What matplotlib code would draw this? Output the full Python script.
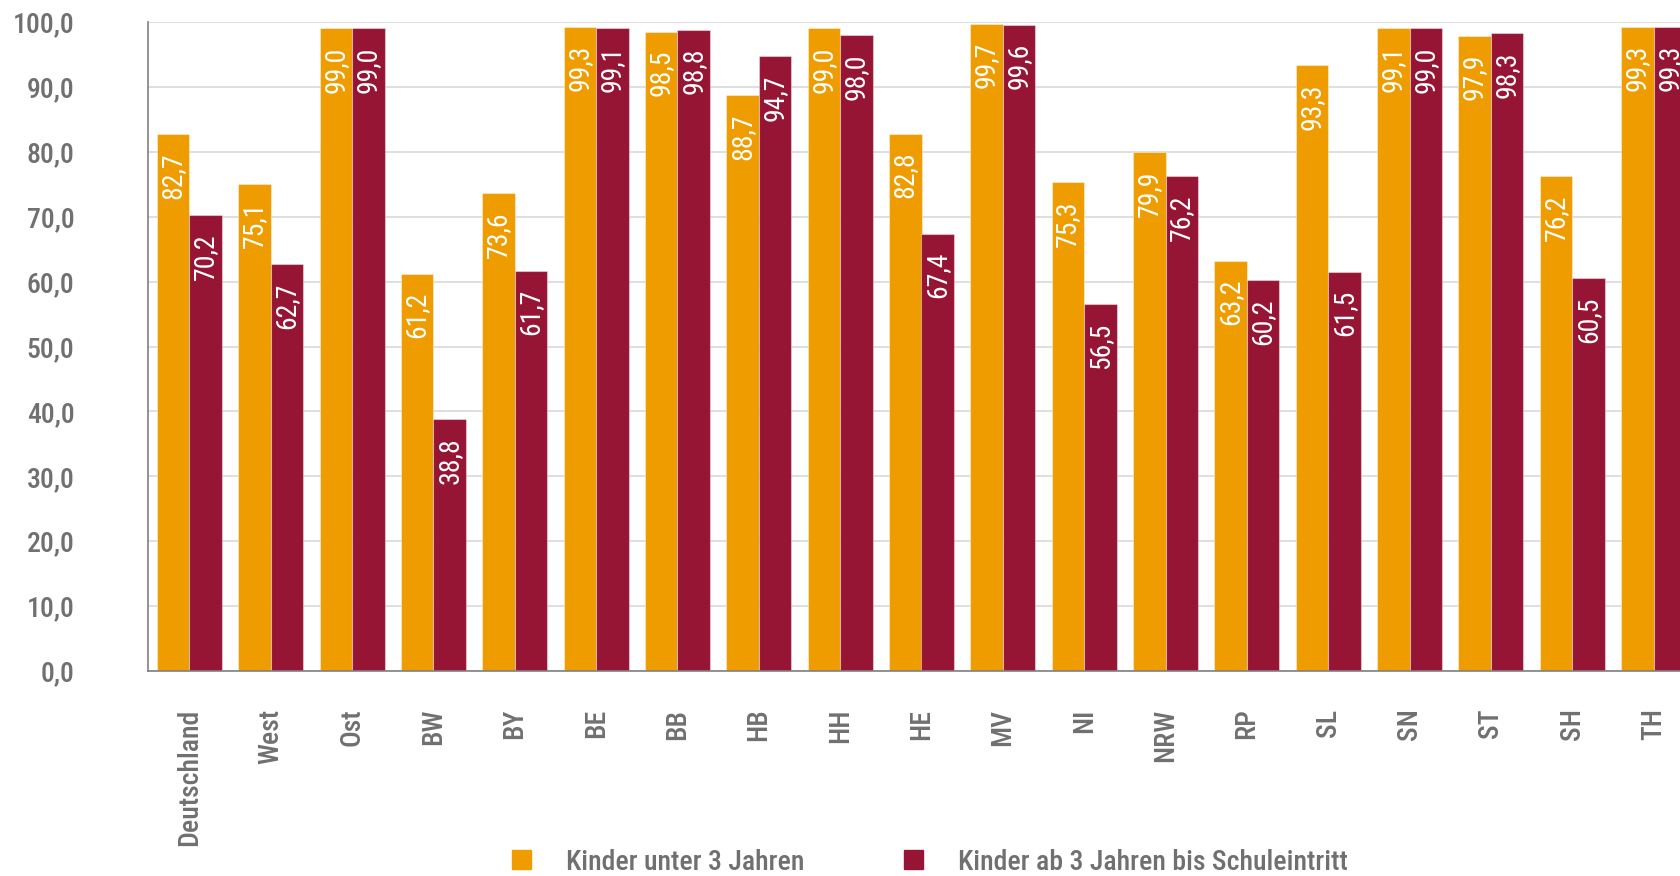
import matplotlib.pyplot as plt
from matplotlib.patches import Patch
import numpy as np

plt.rcParams['font.family'] = ['Roboto Condensed', 'Liberation Sans Narrow', 'DejaVu Sans']
plt.rcParams['font.stretch'] = 'condensed'
plt.rcParams['font.weight'] = 'medium'

laender = ['Deutschland', 'West', 'Ost', 'BW', 'BY', 'BE', 'BB', 'HB', 'HH', 'HE',
           'MV', 'NI', 'NRW', 'RP', 'SL', 'SN', 'ST', 'SH', 'TH']
unter3 = [82.7, 75.1, 99.0, 61.2, 73.6, 99.3, 98.5, 88.7, 99.0, 82.8,
          99.7, 75.3, 79.9, 63.2, 93.3, 99.1, 97.9, 76.2, 99.3]
ab3 = [70.2, 62.7, 99.0, 38.8, 61.7, 99.1, 98.8, 94.7, 98.0, 67.4,
       99.6, 56.5, 76.2, 60.2, 61.5, 99.0, 98.3, 60.5, 99.3]
serien = ['Kinder unter 3 Jahren', 'Kinder ab 3 Jahren bis Schuleintritt']

orange = '#EE9C00'
maroon = '#961535'
grau = '#707070'

fig = plt.figure(figsize=(16.8, 8.76), dpi=100)
ax = fig.add_axes([148 / 1680, 1 - 671 / 876, 1547 / 1680, 649 / 876])

x = np.arange(len(laender))
w = 0.4
b1 = ax.bar(x - w / 2, unter3, w, color=orange, edgecolor=(1, 1, 1, 0.4), linewidth=0.8, zorder=3)
b2 = ax.bar(x + w / 2, ab3, w, color=maroon, edgecolor=(1, 1, 1, 0.4), linewidth=0.8, zorder=3)

# Werte in den Balken
for bars, vals in [(b1, unter3), (b2, ab3)]:
    for rect, v in zip(bars, vals):
        ax.annotate(f'{v:.1f}'.replace('.', ','),
                    (rect.get_x() + rect.get_width() / 2, v),
                    xytext=(0, -13), textcoords='offset points',
                    rotation=90, ha='center', va='top',
                    color='white', fontsize=20, fontweight='normal', zorder=4)

ax.set_xlim(-0.51, len(laender) - 0.49)
ax.set_ylim(0, 100)
ax.set_yticks(np.arange(0, 101, 10))
ax.set_yticklabels([f'{t:.1f}'.replace('.', ',') for t in np.arange(0, 101, 10)])
ax.set_xticks(x)
ax.set_xticklabels(laender, rotation=90, va='top')
ax.tick_params(axis='y', length=0, pad=53, labelsize=20, labelcolor=grau)
ax.tick_params(axis='x', length=0, pad=27, labelsize=20, labelcolor=grau)

ax.grid(axis='y', color='#D9D9D9', linewidth=1.2, zorder=0)
for s in ['top', 'right']:
    ax.spines[s].set_visible(False)
for s in ['left', 'bottom']:
    ax.spines[s].set_color('#808080')
    ax.spines[s].set_linewidth(1.2)
    ax.spines[s].set_zorder(5)

handles = [Patch(color=orange), Patch(color=maroon)]
fig.legend(handles, serien, loc='center', bbox_to_anchor=(930 / 1680, 1 - 862 / 876),
           ncol=2, frameon=False, fontsize=20, labelcolor=grau,
           handlelength=0.68, handleheight=0.68, handletextpad=1.26, columnspacing=3.6)

fig.savefig('out.png', dpi=100)
